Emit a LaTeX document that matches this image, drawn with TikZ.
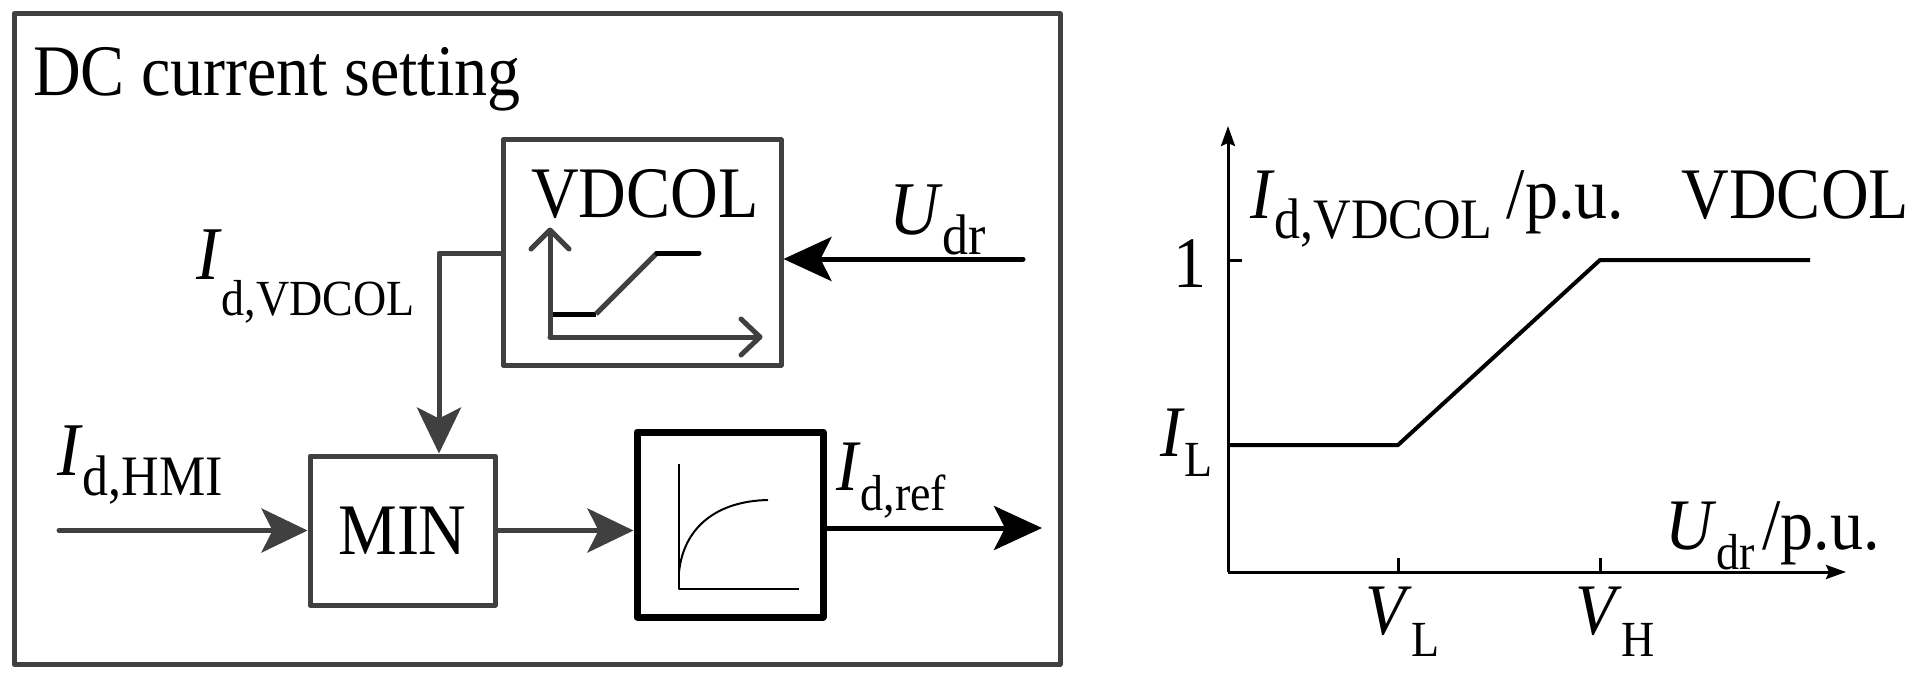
\documentclass[tikz,border=0pt]{standalone}
\usepackage{fontspec}
\usepackage{graphicx}
\setmainfont{Liberation Serif}
\usetikzlibrary{arrows.meta}
\definecolor{dg}{HTML}{404040}
\newcommand\bigf{\fontsize{66}{72}\selectfont}
\newcommand\mathf{\fontsize{69}{76}\selectfont}
\newcommand\subf{\fontsize{46}{50}\selectfont}
\newcommand\subF{\fontsize{52}{56}\selectfont}
\newcommand\st[1]{\scalebox{1}[1.1]{#1}}
\newcommand\sym[2]{\st{\textit{#1}\raisebox{-19pt}{\subf #2}}}
\newcommand\symB[4]{\st{{\mathf\textit{#1}}\raisebox{-#3pt}{\fontsize{#4}{#4}\selectfont #2}}}
\begin{document}
\begin{tikzpicture}[x=1pt,y=-1pt,line join=round,
  txt/.style={inner sep=0pt,outer sep=0pt,font=\bigf},
  gbox/.style={draw=dg,line width=5pt,inner sep=0pt},
  kbox/.style={draw=black,line width=7pt,inner sep=0pt},
  garrow/.style={draw=dg,line width=5pt,-{Stealth[length=46pt,width=44pt,inset=11pt]}},
  karrow/.style={draw=black,line width=5pt,-{Stealth[length=48pt,width=44pt,inset=11pt]}},
  axarrow/.style={draw=black,line width=3pt,-{Stealth[length=20pt,width=14pt,inset=3pt]}},
  gline/.style={draw=dg,line width=5pt},
  kline/.style={draw=black,line width=5pt},
  curve/.style={draw=black,line width=4pt}]
\useasboundingbox (0,0) rectangle (1920,682);
\fill[white] (0,0) rectangle (1920,682);
% outer frame
\node[gbox,minimum width=1046pt,minimum height=650pt] (frame) at (537,339) {};
\node[txt,anchor=base west] (title) at (33,96) {\st{DC current setting}};
% VDCOL block
\node[gbox,minimum width=278pt,minimum height=225pt] (vd) at (642,252.5) {};
\node[txt,anchor=base] (vdt) at (645,217) {\st{VDCOL}};
\draw[gline,line cap=round] (550,337) -- (550,231);
\draw[gline,line cap=round] (531,249) -- (550,230) -- (569,249);
\draw[gline,line cap=round] (550,337) -- (759,337);
\draw[gline,line cap=round] (741,319) -- (760,337) -- (741,355);
\draw[kline] (553,314) -- (596,314);
\draw[gline] (596,314) -- (657,253);
\draw[kline,line cap=round] (657,253) -- (699,253);
% MIN block
\node[gbox,minimum width=185pt,minimum height=149pt,font=\bigf] (min) at (402.5,530.5) {\st{MIN}};
% filter block
\node[kbox,minimum width=186pt,minimum height=185pt] (flt) at (730,524.5) {};
\draw[black,line width=2pt] (679,464) -- (679,589) -- (799,589);
\draw[black,line width=2pt] (679,572) .. controls (684,526) and (718,501) .. (768,500);
% connectors
\coordinate (hmi) at (59,530.5);
\draw[garrow,line cap=round] (hmi) -- (min.west);
\draw[garrow] (min.east) -- (min.east -| flt.west);
\coordinate (out) at (1042,528);
\draw[karrow] (out -| flt.east) -- (out);
\coordinate (udr) at (1023,259);
\draw[karrow,line cap=round] (udr) -- (udr -| vd.east);
\coordinate (c1) at (439,253);
\draw[garrow] (c1 -| vd.west) -- (c1) -- (c1 |- min.north);
% labels left
\node[txt,anchor=base west] (lvd) at (196,279) {\symB{I}{d,VDCOL}{33}{46}};
\node[txt,anchor=base west] (lhmi) at (57,475) {\symB{I}{d,HMI}{19}{52}};
\node[txt,anchor=base west] (lref) at (836,490) {\sym{I}{d,ref}};
\node[txt,anchor=base west] (ludr) at (889,234) {\symB{U}{dr}{19}{52}};
% right graph
\coordinate (O) at (1228,572);
\coordinate (ytip) at (1228,126);
\coordinate (xtip) at (1846,572);
\draw[axarrow] (O) -- (ytip);
\draw[axarrow] (O) -- (xtip);
\coordinate (one) at (1228,260);
\draw[black,line width=3pt] (one) -- ++(14,0);
\coordinate (vl) at (1398,572);
\coordinate (vh) at (1600,572);
\draw[black,line width=3pt] (vl) -- ++(0,-14);
\draw[black,line width=3pt] (vh) -- ++(0,-14);
\coordinate (p1) at (1228,445);
\coordinate (p2) at (1398,445);
\coordinate (p3) at (1600,260);
\coordinate (p4) at (1810,260);
\draw[curve] (p1) -- (p2) -- (p3) -- (p4);
\node[txt,anchor=base west] (ylab) at (1250,218) {\st{\textit{I}\raisebox{-19pt}{\subF d,VDCOL}\kern14pt/p.u.}};
\node[txt,anchor=base east] (vdr) at (1909,218) {\st{VDCOL}};
\node[txt,anchor=base east] (lone) at (1206,287) {\st{1}};
\node[txt,anchor=base west] (lil) at (1160,456) {\sym{I}{L}};
\node[txt,anchor=base west] (lvl) at (1365,634) {\st{\textit{V}\raisebox{-20pt}{\subf L}}};
\node[txt,anchor=base west] (lvh) at (1575,634) {\st{\textit{V}\raisebox{-20pt}{\subf H}}};
\node[txt,anchor=base west] (xlab) at (1665,549) {\st{\textit{U}\raisebox{-19pt}{\subf dr}\kern8pt/p.u.}};
\end{tikzpicture}
\end{document}
